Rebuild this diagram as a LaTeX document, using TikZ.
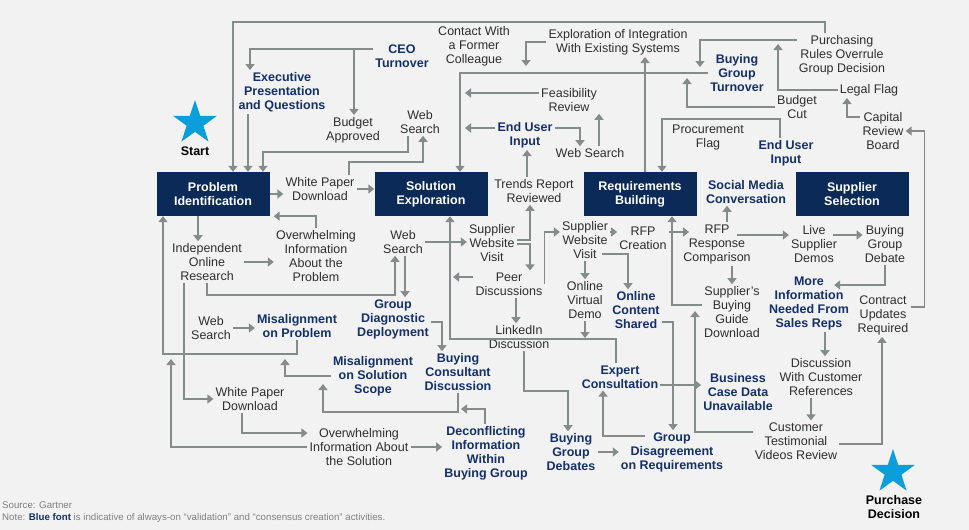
\documentclass[tikz,border=0pt]{standalone}
\usepackage{fontspec}
\setmainfont{Liberation Sans}
\usepackage{tikz}
\usetikzlibrary{arrows,arrows.meta,shapes,shapes.geometric,positioning}
\definecolor{paper}{HTML}{F2F2F2}
\definecolor{navy}{HTML}{0B2A57}
\definecolor{inkblue}{HTML}{14306A}
\definecolor{inkgray}{HTML}{2E2E2E}
\definecolor{wire}{HTML}{858B8B}
\definecolor{starblue}{HTML}{0C9DDB}
\definecolor{notegray}{HTML}{808080}

\begin{document}
\begin{tikzpicture}[x=1pt,y=-1pt,
        >={Triangle[length=6pt,width=9pt]},
        flow/.style={->,draw=wire,line width=1.6pt},
        stage/.style={fill=navy,text=white,font=\fontsize{12.5}{14}\selectfont\bfseries,align=center,minimum width=113pt,minimum height=44pt,inner sep=0pt},
        act/.style={text=inkgray,font=\fontsize{12.5}{14}\selectfont,align=center,inner sep=2pt},
        keyact/.style={act,text=inkblue,font=\fontsize{12.5}{14}\selectfont\bfseries},
        milestone/.style={star,star points=5,star point ratio=2.6,fill=starblue,minimum size=46pt,inner sep=0pt}]
        \fill[paper] (0,0) rectangle (969,530);
        \useasboundingbox (0,0) rectangle (969,530);

        % stages
        \node[stage] (pi) at (213,194) {Problem\\Identification};
        \node[stage] (se) at (431,194) {Solution\\Exploration};
        \node[stage] (rb) at (640,194) {Requirements\\Building};
        \node[stage] (ss) at (852,194) {Supplier\\Selection};

        % start and end
        \node[milestone] (startstar) at (195,123) {};
        \node[font=\fontsize{12.5}{14}\selectfont\bfseries] (startlbl) at (195,151) {Start};
        \node[milestone] (endstar) at (893,472) {};
        \node[font=\fontsize{12.5}{14}\selectfont\bfseries,align=center] (endlbl) at (894,507) {Purchase\\Decision};

        % top row
        \node[act] (contact) at (474,46) {Contact With\\a Former\\Colleague};
        \node[act] (integ) at (618,42) {Exploration of Integration\\With Existing Systems};
        \node[act] (purch) at (842,55) {Purchasing\\Rules Overrule\\Group Decision};
        \node[act] (legal) at (869,90) {Legal Flag};
        \node[act] (capital) at (883,131) {Capital\\Review\\Board};
        \node[act] (bcut) at (797,107) {Budget\\Cut};
        \node[act] (procure) at (708,137) {Procurement\\Flag};
        \node[act] (feas) at (569,100) {Feasibility\\Review};
        \node[act] (websearchC) at (590,153) {Web Search};
        \node[act] (budapp) at (353,130) {Budget\\Approved};
        \node[act] (websearchA) at (420,122) {Web\\Search};
        \node[act] (wpA) at (320,189) {White Paper\\Download};
        \node[act] (trends) at (534,191) {Trends Report\\Reviewed};
        \node[keyact] (ceo) at (402,56) {CEO\\Turnover};
        \node[keyact] (exec) at (282,92) {Executive\\Presentation\\and Questions};
        \node[keyact] (euiA) at (525,135) {End User\\Input};
        \node[keyact] (bgturn) at (737,73) {Buying\\Group\\Turnover};
        \node[keyact] (euiB) at (786,153) {End User\\Input};
        \node[keyact] (social) at (746,192) {Social Media\\Conversation};

        % middle and bottom
        \node[act] (overP) at (316,256) {Overwhelming\\Information\\About the\\Problem};
        \node[act] (indep) at (207,262) {Independent\\Online\\Research};
        \node[act] (websearchB) at (403,242) {Web\\Search};
        \node[act] (swvA) at (492,243) {Supplier\\Website\\Visit};
        \node[act] (swvB) at (585,240) {Supplier\\Website\\Visit};
        \node[act] (rfpc) at (643,238) {RFP\\Creation};
        \node[act] (rfpr) at (717,244) {RFP\\Response\\Comparison};
        \node[act] (live) at (814,244) {Live\\Supplier\\Demos};
        \node[act] (bgdebate) at (885,244) {Buying\\Group\\Debate};
        \node[act] (peer) at (509,284) {Peer\\Discussions};
        \node[act] (ovd) at (585,300) {Online\\Virtual\\Demo};
        \node[act] (guide) at (732,312) {Supplier’s\\Buying\\Guide\\Download};
        \node[act] (websearchD) at (211,328) {Web\\Search};
        \node[act] (linkedin) at (519,337) {LinkedIn\\Discussion};
        \node[act] (contract) at (883,315) {Contract\\Updates\\Required};
        \node[act] (refs) at (821,377) {Discussion\\With Customer\\References};
        \node[act] (wpB) at (250,399) {White Paper\\Download};
        \node[act] (videos) at (796,441) {Customer\\Testimonial\\Videos Review};
        \node[act] (overS) at (359,447) {Overwhelming\\Information About\\the Solution};
        \node[keyact] (misP) at (297,326) {Misalignment\\on Problem};
        \node[keyact] (gdd) at (393,319) {Group\\Diagnostic\\Deployment};
        \node[keyact] (ocs) at (636,310) {Online\\Content\\Shared};
        \node[keyact] (moreinfo) at (809,303) {More\\Information\\Needed From\\Sales Reps};
        \node[keyact] (misS) at (373,376) {Misalignment\\on Solution\\Scope};
        \node[keyact] (bcd) at (458,372) {Buying\\Consultant\\Discussion};
        \node[keyact] (expert) at (620,377) {Expert\\Consultation};
        \node[keyact] (bcase) at (738,392) {Business\\Case Data\\Unavailable};
        \node[keyact] (deconf) at (486,453) {Deconflicting\\Information\\Within\\Buying Group};
        \node[keyact] (bgdebates) at (571,452) {Buying\\Group\\Debates};
        \node[keyact] (disagree) at (672,452) {Group\\Disagreement\\on Requirements};

        % footer
        \node[anchor=west,inner sep=0pt,text=notegray,font=\fontsize{9.7}{11}\selectfont] (source) at (2,505) {Source: Gartner};
        \node[anchor=west,inner sep=0pt,text=notegray,font=\fontsize{9.7}{11}\selectfont] (note) at (2,518) {Note: \textcolor{inkblue}{\bfseries Blue font} is indicative of always-on “validation” and “consensus creation” activities.};

        % free ends where an arrow joins another line
        \coordinate (ceoSplit) at (354,49);
        \coordinate (mergeTop) at (526,66);
        \coordinate (mergeFeas) at (465,93);
        \coordinate (mergeEUI) at (465,128);
        \coordinate (mergeCut) at (687,78);
        \coordinate (mergePurch) at (700,67);
        \coordinate (mergeLegal) at (778,44);
        \coordinate (mergeMisS) at (285,359);
        \coordinate (mergeBcd) at (323,384);
        \coordinate (mergeDeconf) at (461,409);
        \coordinate (mergeOverS) at (171,359);
        \coordinate (mergePeer) at (453,277);
        \coordinate (mergeOvd) at (585,338);
        \coordinate (mergeVideos) at (695,311);

        % straight connectors
        \path
        (pi.east) edge[flow] (pi.east -| wpA.west)
        (wpA.east) edge[flow] (wpA.east -| se.west)
        (ceoSplit) edge[flow] (ceoSplit |- budapp.north)
        ([xshift=-34pt]exec.south) edge[flow] ([xshift=35pt]pi.north)
        ([yshift=7pt]feas.west) edge[flow] (mergeFeas)
        ([yshift=7pt]euiA.west) edge[flow] (mergeEUI)
        ([xshift=9pt]websearchC.north) edge[flow] ([xshift=30pt]feas.south)
        ([xshift=-7pt]trends.north) edge[flow] ([xshift=2pt]euiA.south)
        ([xshift=5pt]rb.north) edge[flow] ([xshift=27pt]integ.south)
        ([xshift=-15pt]pi.south) edge[flow] ([xshift=-9pt]indep.north)
        (indep.east) edge[flow] (indep.east -| overP.west)
        ([xshift=2pt]websearchB.south) edge[flow] ([xshift=12pt]gdd.north)
        (websearchB.east) edge[flow] (websearchB.east -| swvA.west)
        (websearchD.east) edge[flow] (websearchD.east -| misP.west)
        (overS.east) edge[flow] (overS.east -| deconf.west)
        ([yshift=7pt]peer.west) edge[flow] (mergePeer)
        ([xshift=7pt]peer.south) edge[flow] ([xshift=-3pt]linkedin.north)
        ([yshift=8pt]swvB.east) edge[flow] ([yshift=6pt]rfpc.west)
        ([yshift=6pt]rfpc.east) edge[flow] ([xshift=8pt,yshift=12pt]rfpr.west)
        ([xshift=10pt]rfpr.north) edge[flow] ([xshift=-19pt]social.south)
        ([xshift=-16pt,yshift=9pt]rfpr.east) edge[flow] ([yshift=9pt]live.west)
        ([xshift=-6pt,yshift=9pt]live.east) edge[flow] ([yshift=9pt]bgdebate.west)
        (rfpr.south -| guide.north) edge[flow] (guide.north)
        ([xshift=16pt]moreinfo.south) edge[flow] ([xshift=4pt]refs.north)
        (swvB.south) edge[flow] (ovd.north)
        (ovd.south) edge[flow] (mergeOvd)
        ([yshift=-8pt]expert.east) edge[flow] ([yshift=7pt]bcase.west)
        (bgdebates.east) edge[flow] (bgdebates.east -| disagree.west)
        ([xshift=-10pt]refs.south) edge[flow] ([xshift=15pt]videos.north)
        ;

        % bent connectors
        \draw[flow] ([xshift=-17pt]purch.north) |- (233,22) -- ([xshift=20pt]pi.north);
        \draw[flow] ([yshift=7pt]ceo.west) -| ([xshift=-32pt]exec.north);
        \draw[flow] ([xshift=-12pt]websearchA.south) |- (263,152) -- ([xshift=50pt]pi.north);
        \draw[flow] ([xshift=29pt]wpA.north) |- (423,162) -- ([xshift=3pt]websearchA.south);
        \draw[flow] (overP.north) |- ([xshift=4pt]pi.south east);
        \draw[flow] (bgturn.west) -| ([xshift=29pt]se.north);
        \draw[flow] (integ.west) -| (mergeTop);
        \draw[flow] ([yshift=7pt]euiA.east) -| ([xshift=-10pt]websearchC.north);
        \draw[flow] (bcut.west) -| (mergeCut);
        \draw[flow] ([yshift=15pt]purch.west) -| (mergePurch);
        \draw[flow] (legal.west) -| (mergeLegal);
        \draw[flow] ([yshift=14pt]capital.west) -| ([xshift=-22pt]legal.south);
        \draw[flow] ([xshift=-6pt]euiB.north) |- (662,119) -- ([xshift=22pt]rb.north);
        \draw[flow] ([yshift=8pt]contract.east) -- ++(14,0) |- (capital.east);
        \draw[flow] (indep.south) |- (395,295) -- ([xshift=-8pt]websearchB.south);
        \draw[flow] ([xshift=-23pt]indep.south) |- (wpB.west);
        \draw[flow] (misP.south) |- (163,354) -- ([xshift=-50pt]pi.south);
        \draw[flow] ([yshift=-3pt]gdd.east) -| ([xshift=-16pt]bcd.north);
        \draw[flow] ([xshift=-4pt]expert.north) |- (450,339) -- ([xshift=19pt]se.south);
        \draw[flow] (misS.west) -| (mergeMisS);
        \draw[flow] (bcd.south) |- (323,412) -- (mergeBcd);
        \draw[flow] ([xshift=-1pt]deconf.north) |- (mergeDeconf);
        \draw[flow] ([xshift=-8pt]wpB.south) |- ([yshift=14pt]overS.west);
        \draw[flow] (overS.west) -| (mergeOverS);
        \draw[flow] ([yshift=3pt]swvA.east) -| ([xshift=-4pt]trends.south);
        \draw[flow] ([yshift=-1pt]swvA.east) -| ([xshift=21pt]peer.north);
        \draw[flow] (peer.east) |- ([yshift=8pt]swvB.west);
        \draw[flow] (bgdebate.south) |- ([xshift=-17pt,yshift=18pt]moreinfo.east);
        \draw[flow] ([yshift=-14pt,xshift=-8pt]swvB.east) -| ([xshift=-8pt]ocs.north);
        \draw[flow] ([yshift=7pt]guide.west) -| ([xshift=32pt]rb.south);
        \draw[flow] ([yshift=9pt]videos.west) -| (mergeVideos);
        \draw[flow] ([yshift=-12pt]ocs.east) -| ([xshift=1pt]disagree.north);
        \draw[flow] ([xshift=26pt,yshift=16pt]disagree.west) -| ([xshift=-17pt]expert.south);
        \draw[flow] ([xshift=5pt]linkedin.south) |- (568,391) -- ([xshift=-3pt]bgdebates.north);
        \draw[flow] ([yshift=-3pt]videos.east) -| ([xshift=-1pt]contract.south);
    \end{tikzpicture}
\end{document}
